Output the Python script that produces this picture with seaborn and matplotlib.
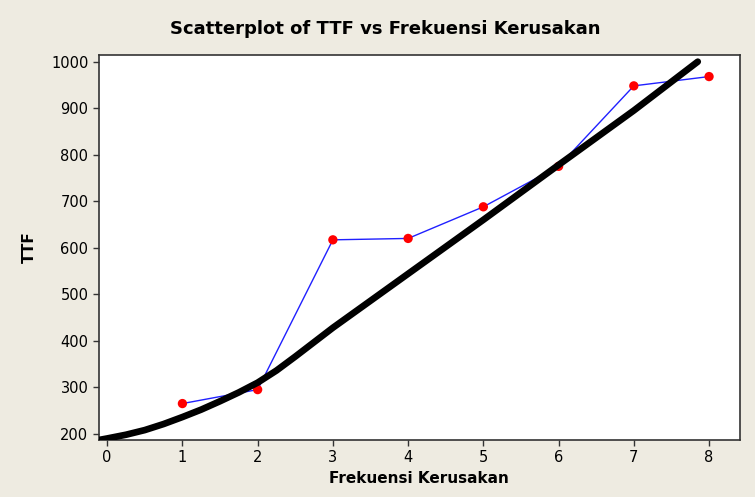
import matplotlib
matplotlib.use("Agg")
import matplotlib.pyplot as plt
import seaborn as sns
import pandas as pd

# observed data
frekuensi = [1, 2, 3, 4, 5, 6, 7, 8]
ttf = [265, 295, 617, 620, 688, 775, 948, 968]

# fitted curve, values
fit_x = [-0.1, 0, 0.25, 0.5, 0.75, 1, 1.25, 1.5, 1.75, 2, 2.25, 2.5, 2.75,
         3, 3.5, 4, 5, 6, 7, 7.85]
fit_y = [187, 190, 198, 208, 221, 236, 252, 270, 289, 310, 336, 366, 397,
         428, 486, 544, 660, 778, 895, 1000]

bg = "#EEEBE1"

sns.set_style("ticks")
plt.rcParams["font.family"] = ["DejaVu Sans"]

fig = plt.figure(figsize=(7.55, 4.97), dpi=100, facecolor=bg)
ax = fig.add_axes([0.131, 0.115, 0.849, 0.774])
ax.set_facecolor("white")

obs = pd.DataFrame({"x": frekuensi, "y": ttf})
fit = pd.DataFrame({"x": fit_x, "y": fit_y})

sns.lineplot(data=obs, x="x", y="y", ax=ax, color="#2020FF", lw=1, sort=False)
sns.scatterplot(data=obs, x="x", y="y", ax=ax, color="#FF0000", s=45,
                edgecolor="none", zorder=3)
sns.lineplot(data=fit, x="x", y="y", ax=ax, color="black", lw=4.8,
             sort=False, zorder=4, solid_capstyle="round")

ax.set_xlim(-0.11, 8.41)
ax.set_ylim(187, 1014)
ax.set_xticks(range(0, 9))
ax.set_yticks(range(200, 1001, 100))
ax.tick_params(labelsize=10.5, length=4, width=1, colors="#333333",
               labelcolor="black")
for s in ax.spines.values():
    s.set_color("#333333")
    s.set_linewidth(1.2)

ax.set_xlabel("Frekuensi Kerusakan", fontsize=11, fontweight="bold", color="black")
ax.set_ylabel("TTF", fontsize=11, fontweight="bold", labelpad=10, color="black")
fig.suptitle("Scatterplot of TTF vs Frekuensi Kerusakan", x=0.51, y=0.96,
             fontsize=13, fontweight="bold", color="black")

fig.savefig("out.png", dpi=100, facecolor=bg)
